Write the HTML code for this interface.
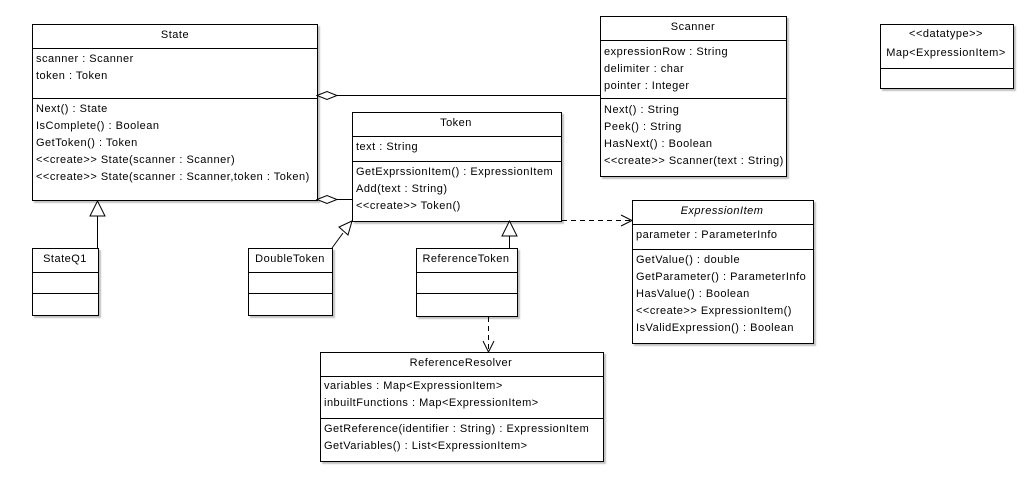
<!DOCTYPE html>
<html><head><style>
html,body{margin:0;padding:0;background:#fff;width:1035px;height:489px;overflow:hidden}
svg{display:block}
text{font-family:"Liberation Sans",sans-serif;font-size:11px;fill:#000;letter-spacing:0.5px}
</style></head><body>
<svg width="1035" height="489" viewBox="0 0 1035 489" xmlns="http://www.w3.org/2000/svg">
<defs><filter id="s" x="-5%" y="-5%" width="110%" height="110%"><feDropShadow dx="2" dy="2" stdDeviation="0.6" flood-color="#999" flood-opacity="0.6"/></filter></defs>
<g fill="#fff" stroke="#000" stroke-width="1" filter="url(#s)">
<rect x="32.5" y="24.5" width="285" height="176"/>
<rect x="32.5" y="248.5" width="66" height="67"/>
<rect x="248.5" y="248.5" width="84" height="67"/>
<rect x="352.5" y="112.5" width="209" height="109"/>
<rect x="416.5" y="248.5" width="101" height="68"/>
<rect x="320.5" y="352.5" width="283" height="109"/>
<rect x="632.5" y="200.5" width="181" height="143"/>
<rect x="600.5" y="16.5" width="186" height="160"/>
<rect x="880.5" y="24.5" width="133" height="64"/>
</g>
<g stroke="#000" stroke-width="1" fill="none">
<path d="M32 48.5H317M32 98.5H317"/>
<path d="M32 272.5H98M32 293.5H98"/>
<path d="M248 272.5H332M248 293.5H332"/>
<path d="M352 136.5H561M352 161.5H561"/>
<path d="M416 272.5H517M416 293.5H517"/>
<path d="M320 376.5H603M320 418.5H603"/>
<path d="M632 224.5H813M632 249.5H813"/>
<path d="M600 40.5H786M600 98.5H786"/>
<path d="M880 68.5H1013"/>
<path d="M337 95.5H600"/>
<path d="M317 95.5L327 91.5L337 95.5L327 99.5Z" fill="#fff"/>
<path d="M337 199.5H352"/>
<path d="M317 199.5L327 195.5L337 199.5L327 203.5Z" fill="#fff"/>
<path d="M97.5 248V216"/>
<path d="M97.5 201L90 216H105Z" fill="#fff"/>
<path d="M332 248L343 233"/>
<path d="M352 221L339 227L348 235Z" fill="#fff"/>
<path d="M509.5 248V236"/>
<path d="M509.5 221L502 236H517Z" fill="#fff"/>
<path d="M562 220.5H631" stroke-dasharray="5,4"/>
<path d="M621 215L632 220.5L621 226"/>
<path d="M488.5 317V351" stroke-dasharray="5,4"/>
<path d="M483 341L488.5 352L494 341"/>
</g>
<text x="175" y="38" text-anchor="middle">State</text>
<text x="36" y="62">scanner : Scanner</text>
<text x="36" y="79">token : Token</text>
<text x="36" y="112">Next() : State</text>
<text x="36" y="129">IsComplete() : Boolean</text>
<text x="36" y="146">GetToken() : Token</text>
<text x="36" y="163">&lt;&lt;create&gt;&gt; State(scanner : Scanner)</text>
<text x="36" y="180">&lt;&lt;create&gt;&gt; State(scanner : Scanner,token : Token)</text>
<text x="65" y="262" text-anchor="middle">StateQ1</text>
<text x="290" y="262" text-anchor="middle">DoubleToken</text>
<text x="456" y="126" text-anchor="middle">Token</text>
<text x="356" y="150">text : String</text>
<text x="356" y="175">GetExprssionItem() : ExpressionItem</text>
<text x="356" y="192">Add(text : String)</text>
<text x="356" y="209">&lt;&lt;create&gt;&gt; Token()</text>
<text x="466" y="262" text-anchor="middle">ReferenceToken</text>
<text x="461" y="366" text-anchor="middle">ReferenceResolver</text>
<text x="324" y="389">variables : Map&lt;ExpressionItem&gt;</text>
<text x="324" y="406">inbuiltFunctions : Map&lt;ExpressionItem&gt;</text>
<text x="324" y="432">GetReference(identifier : String) : ExpressionItem</text>
<text x="324" y="449">GetVariables() : List&lt;ExpressionItem&gt;</text>
<text x="722" y="214" text-anchor="middle" font-style="italic">ExpressionItem</text>
<text x="636" y="238">parameter : ParameterInfo</text>
<text x="636" y="263">GetValue() : double</text>
<text x="636" y="280">GetParameter() : ParameterInfo</text>
<text x="636" y="297">HasValue() : Boolean</text>
<text x="636" y="314">&lt;&lt;create&gt;&gt; ExpressionItem()</text>
<text x="636" y="331">IsValidExpression() : Boolean</text>
<text x="693" y="30" text-anchor="middle">Scanner</text>
<text x="604" y="55">expressionRow : String</text>
<text x="604" y="72">delimiter : char</text>
<text x="604" y="89">pointer : Integer</text>
<text x="604" y="113">Next() : String</text>
<text x="604" y="130">Peek() : String</text>
<text x="604" y="147">HasNext() : Boolean</text>
<text x="604" y="164">&lt;&lt;create&gt;&gt; Scanner(text : String)</text>
<text x="946" y="37" text-anchor="middle" font-size="10">&lt;&lt;datatype&gt;&gt;</text>
<text x="946" y="56" text-anchor="middle">Map&lt;ExpressionItem&gt;</text>
</svg>
</body></html>
